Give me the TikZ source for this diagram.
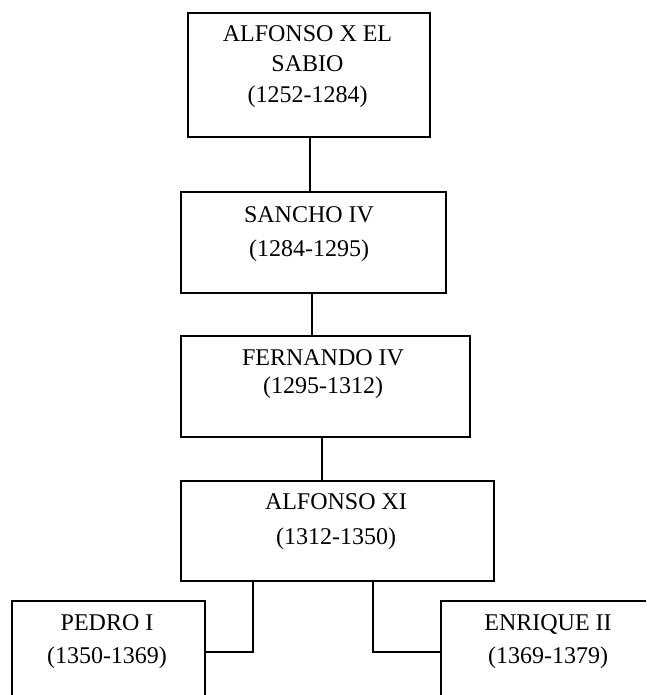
\documentclass[tikz,border=0pt]{standalone}
\usepackage{fontspec}
\setmainfont{Liberation Serif}
\begin{document}
\begin{tikzpicture}[x=1pt,y=-1pt,
  box/.style={draw=black,line width=1.8pt,rectangle,inner sep=0pt,fill=white},
  lbl/.style={anchor=base,inner sep=0pt,font=\fontsize{24}{27}\selectfont},
  conn/.style={draw=black,line width=1.8pt}]
\useasboundingbox (0,0) rectangle (646,695);
\clip (0,0) rectangle (646,695);
\fill[white] (0,0) rectangle (646,695);
% boxes
\node[box,minimum width=242pt,minimum height=124pt] (b1) at (309,75) {};
\node[box,minimum width=265pt,minimum height=101pt] (b2) at (313.5,242.5) {};
\node[box,minimum width=289pt,minimum height=101pt] (b3) at (325.5,386.5) {};
\node[box,minimum width=313pt,minimum height=100pt] (b4) at (337.5,531) {};
\node[box,minimum width=193pt,minimum height=102pt] (b5) at (108.5,652) {};
\node[box,minimum width=219pt,minimum height=102pt] (b6) at (550.5,652) {};
% texts
\node[lbl] (t1a) at (307.5,42) {ALFONSO X EL};
\node[lbl] (t1b) at (307.5,72) {SABIO};
\node[lbl] (t1c) at (307.5,103) {(1252-1284)};
\node[lbl] (t2a) at (309,222) {SANCHO IV};
\node[lbl] (t2b) at (309,256) {(1284-1295)};
\node[lbl] (t3a) at (323,365) {FERNANDO IV};
\node[lbl] (t3b) at (323,393) {(1295-1312)};
\node[lbl] (t4a) at (336,509) {ALFONSO XI};
\node[lbl] (t4b) at (336,544) {(1312-1350)};
\node[lbl] (t5a) at (107,630) {PEDRO I};
\node[lbl] (t5b) at (107,663) {(1350-1369)};
\node[lbl] (t6a) at (548,630) {ENRIQUE II};
\node[lbl] (t6b) at (548,663) {(1369-1379)};
% connectors
\draw[conn] ([xshift=1pt]b1.south) -- ([xshift=1pt]b1.south |- b2.north);
\draw[conn] ([xshift=-1.5pt]b2.south) -- ([xshift=-1.5pt]b2.south |- b3.north);
\draw[conn] ([xshift=-3.5pt]b3.south) -- ([xshift=-3.5pt]b3.south |- b4.north);
\draw[conn] ([xshift=-84.5pt]b4.south) |- (b5.east);
\draw[conn] ([xshift=35.5pt]b4.south) |- (b6.west);
\end{tikzpicture}
\end{document}
